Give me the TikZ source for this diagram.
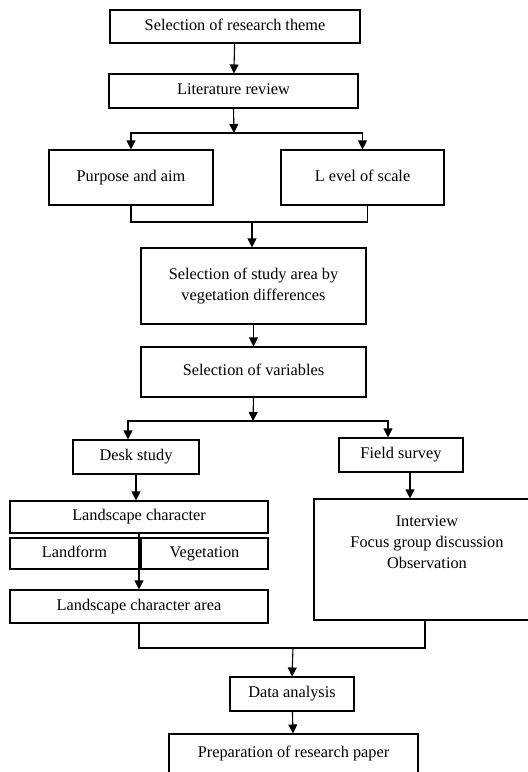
\documentclass[tikz,border=0pt]{standalone}
\usepackage{fontspec}
\setmainfont{Liberation Serif}
\usepackage{tikz}
\usetikzlibrary{positioning,calc,arrows.meta}

\tikzset{
    box/.style={draw, line width=1.1pt, inner sep=0pt, align=center,
        font=\fontsize{16.3}{21}\selectfont},
    oneline/.style={box, text height=11pt, text depth=4pt},
    link/.style={line width=1.1pt},
    >={Triangle[length=9pt,width=9pt]}
}

\begin{document}
\begin{tikzpicture}[x=1pt,y=-1pt]
    \useasboundingbox (0,0) rectangle (528,772);
    % Top of the chart
    \node[oneline, minimum width=250, minimum height=33] (theme) at (235,26.5) {Selection of research theme};
    \node[oneline, minimum width=249, minimum height=34] (lit) at (233.5,91) {Literature review};
    \node[oneline, minimum width=164, minimum height=55] (purpose) at (131,177.5) {Purpose and aim};
    \node[oneline, minimum width=163, minimum height=55] (scale) at (362.5,177.5) {L evel of scale};
    \node[box, minimum width=225, minimum height=76] (area) at (253.5,286) {Selection of study area by\\vegetation differences};
    \node[oneline, minimum width=225, minimum height=50] (vars) at (253.5,372) {Selection of variables};
    % Two branches
    \node[oneline, minimum width=126, minimum height=34] (desk) at (136,457) {Desk study};
    \node[oneline, minimum width=124, minimum height=34] (field) at (401,455) {Field survey};
    \node[oneline, minimum width=258, minimum height=32] (lchar) at (139,517) {Landscape character};
    \node[oneline, minimum width=129, minimum height=31] (landform) at (74.5,553.5) {Landform};
    \node[oneline, minimum width=127, minimum height=31] (veg) at (204.5,553.5) {Vegetation};
    \node[oneline, minimum width=258, minimum height=33] (lca) at (139,606.5) {Landscape character area};
    \node[box, minimum width=226, minimum height=121] (methods) at (427,559.5) {};
    \node[box, draw=none, anchor=north] (methodstxt) at ([yshift=-17pt]methods.north) {Interview\\Focus group discussion\\Observation};
    % Bottom of the chart
    \node[oneline, minimum width=124, minimum height=34] (data) at (292,694) {Data analysis};
    \node[oneline, minimum width=249, minimum height=40] (paper) at (293.5,754) {Preparation of research paper};

    \coordinate (j1) at (234,133);
    \coordinate (j2) at (252,222);
    \coordinate (j3) at (253,421);
    \coordinate (j4) at (293,648);

    \draw[link, ->] (theme) -- (lit);
    \draw[link, ->] (lit.south) -- (j1);
    \draw[link, ->] (j1) -| (purpose.north);
    \draw[link, ->] (j1) -| (scale.north);
    \draw[link] (purpose.south) |- (j2) -| ([xshift=5pt]scale.south);
    \draw[link, ->] (j2) -- (j2 |- area.north);
    \draw[link, ->] (area) -- (vars);
    \draw[link, ->] (vars.south) -- (j3);
    \draw[link, ->] (j3) -| ([xshift=-8pt]desk.north);
    \draw[link, ->] (j3) -| ([xshift=-13pt]field.north);
    \draw[link, ->] (desk.south) -- (desk.south |- lchar.north);
    \draw[link, ->] ([xshift=9pt]field.south) -- ([xshift=9pt]field.south |- methods.north);
    \draw[link, ->] (lchar.south) -- (lca.north);
    \draw[link] (lca.south) |- (j4) -| ([xshift=-2pt]methods.south);
    \draw[link, ->] (j4) -- (data.north);
    \draw[link, ->] (data) -- (paper);
\end{tikzpicture}
\end{document}
